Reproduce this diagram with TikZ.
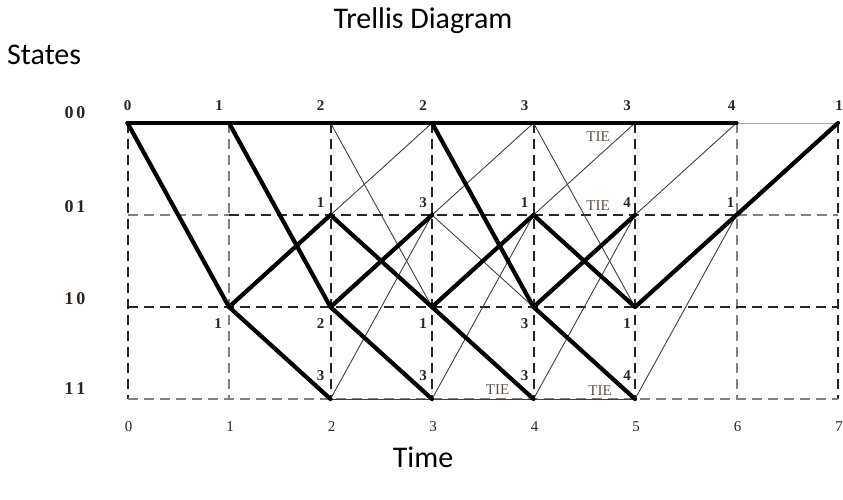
\documentclass[tikz,border=0pt]{standalone}
\usepackage{fontspec}
\setmainfont{Liberation Serif}
\newfontfamily\calfont{Carlito}
\definecolor{labelc}{RGB}{45,36,30}
\definecolor{tiec}{RGB}{95,82,72}
\begin{document}
\begin{tikzpicture}[x=1pt,y=-1pt,
  gridline/.style={line width=2pt, dash pattern=on 10pt off 6pt},
  gk/.style={gridline, black!85},
  gg/.style={gridline, black!50},
  loser/.style={line width=0.9pt, black!75},
  survivor/.style={line width=4.2pt, black, line join=round, line cap=round},
  metric/.style={font=\fontsize{15}{15}\selectfont\bfseries, text=labelc, inner sep=0pt},
  tielbl/.style={font=\fontsize{15}{15}\selectfont, text=tiec, inner sep=0pt},
  timelbl/.style={font=\fontsize{15}{15}\selectfont, text=labelc, inner sep=0pt},
  statelbl/.style={font=\fontsize{18}{18}\selectfont\bfseries, text=labelc, inner sep=0pt},
  titlelbl/.style={font=\calfont\fontsize{30}{34}\selectfont, inner sep=0pt}]
\useasboundingbox (0,0) rectangle (843,500);
% lattice points
\foreach \i/\x in {0/127.5,1/229,2/330.5,3/432,4/533.5,5/635,6/736.5,7/838}{
  \foreach \s/\y in {0/123,1/215,2/307,3/399}{
    \coordinate (n\i\s) at (\x,\y);
  }}
% titles
\node[titlelbl, anchor=base] (title) at (423,29) {Trellis Diagram};
\node[titlelbl, anchor=base west] (states) at (7,65) {States};
\node[titlelbl, anchor=base] (time) at (423,467) {Time};
% state labels
\node[statelbl] (s0) at (75,113) {0\hspace{3pt}0};
\node[statelbl] (s1) at (75,207) {0\hspace{3pt}1};
\node[statelbl] (s2) at (75,299) {1\hspace{3pt}0};
\node[statelbl] (s3) at (75,389) {1\hspace{3pt}1};
% grid: vertical
\draw[gk] (n00) -- (n03);
\draw[gg] (n10) -- (n13);
\foreach \i in {2,3,4,5,7}{\draw[gk] (n\i0) -- (n\i3);}
\draw[gg] (n60) -- (n63);
% grid: horizontal
\draw[gg] (n01) -- (n11);
\draw[gk] (n11) -- (n61);
\draw[gg] (n61) -- (n71);
\draw[gk] (n02) -- (n72);
\draw[gg] (n03) -- (n73);
% non-surviving branches
\draw[loser] (n20) -- (n32);
\draw[loser] (n21) -- (n30);
\draw[loser] (n23) -- (n31);
\draw[loser] (n23) -- (n33);
\draw[loser] (n31) -- (n40);
\draw[loser] (n31) -- (n42);
\draw[loser] (n33) -- (n41);
\draw[loser] (n33) -- (n43);
\draw[loser] (n40) -- (n52);
\draw[loser] (n41) -- (n50);
\draw[loser] (n43) -- (n51);
\draw[loser] (n43) -- (n53);
\draw[loser] (n51) -- (n60);
\draw[loser] (n53) -- (n61);
\draw[loser, black!35] (n60) -- (n70);
% surviving branches
\draw[survivor] (n00) -- (n10) -- (n20) -- (n30) -- (n40) -- (n50) -- (n60);
\draw[survivor] (n00) -- (n12);
\draw[survivor] (n10) -- (n22);
\draw[survivor] (n12) -- (n21);
\draw[survivor] (n12) -- (n23);
\draw[survivor] (n21) -- (n32);
\draw[survivor] (n22) -- (n31);
\draw[survivor] (n22) -- (n33);
\draw[survivor] (n30) -- (n42);
\draw[survivor] (n32) -- (n41);
\draw[survivor] (n32) -- (n43);
\draw[survivor] (n41) -- (n52);
\draw[survivor] (n42) -- (n51);
\draw[survivor] (n42) -- (n53);
\draw[survivor] (n52) -- (n61);
\draw[survivor] (n61) -- (n70);
% path metrics, state 00
\node[metric] (m00) at ([shift={(0,-17)}]n00) {0};
\node[metric] (m10) at ([shift={(-10,-17)}]n10) {1};
\node[metric] (m20) at ([shift={(-10,-17)}]n20) {2};
\node[metric] (m30) at ([shift={(-9,-17)}]n30) {2};
\node[metric] (m40) at ([shift={(-9,-17)}]n40) {3};
\node[metric] (m50) at ([shift={(-8,-17)}]n50) {3};
\node[metric] (m60) at ([shift={(-5,-17)}]n60) {4};
\node[metric] (m70) at ([shift={(1,-17)}]n70) {1};
% state 01
\node[metric] (m21) at ([shift={(-10,-12)}]n21) {1};
\node[metric] (m31) at ([shift={(-9,-12)}]n31) {3};
\node[metric] (m41) at ([shift={(-9,-12)}]n41) {1};
\node[metric] (m51) at ([shift={(-8,-12)}]n51) {4};
\node[metric] (m61) at ([shift={(-6,-12)}]n61) {1};
% state 10
\node[metric] (m12) at ([shift={(-11,17)}]n12) {1};
\node[metric] (m22) at ([shift={(-10,17)}]n22) {2};
\node[metric] (m32) at ([shift={(-9,17)}]n32) {1};
\node[metric] (m42) at ([shift={(-9,17)}]n42) {3};
\node[metric] (m52) at ([shift={(-8,17)}]n52) {1};
% state 11
\node[metric] (m23) at ([shift={(-10,-23)}]n23) {3};
\node[metric] (m33) at ([shift={(-9,-23)}]n33) {3};
\node[metric] (m43) at ([shift={(-9,-23)}]n43) {3};
\node[metric] (m53) at ([shift={(-8,-23)}]n53) {4};
% ties
\node[tielbl] (tie50) at ([shift={(-37,14)}]n50) {TIE};
\node[tielbl] (tie51) at ([shift={(-37,-9)}]n51) {TIE};
\node[tielbl] (tie43) at ([shift={(-36,-9)}]n43) {TIE};
\node[tielbl] (tie53) at ([shift={(-35,-8)}]n53) {TIE};
% time axis
\foreach \i in {0,...,7}{
  \node[timelbl] (t\i) at ([shift={(1,28)}]n\i3) {\i};
}
\end{tikzpicture}
\end{document}
